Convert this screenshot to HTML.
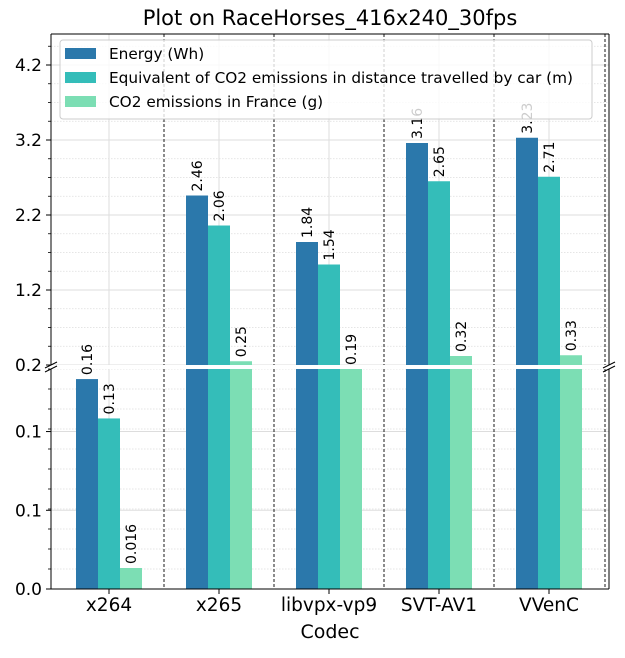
<!DOCTYPE html>
<html><head><meta charset="utf-8"><style>
body{margin:0;background:#fff;}
svg text{font-family:"DejaVu Sans","Liberation Sans",sans-serif;}
</style></head><body>
<svg id="chart" width="625" height="653" xmlns="http://www.w3.org/2000/svg"></svg>
<script>
const categories = ["x264","x265","libvpx-vp9","SVT-AV1","VVenC"];
const energy = [0.16,2.46,1.84,3.16,3.23];
const carDistance = [0.13,2.06,1.54,2.65,2.71];
const co2France = [0.016,0.25,0.19,0.32,0.33];
const energyLabels = ["0.16","2.46","1.84","3.16","3.23"];
const carLabels = ["0.13","2.06","1.54","2.65","2.71"];
const franceLabels = ["0.016","0.25","0.19","0.32","0.33"];
const topTicks = [0.2,1.2,2.2,3.2,4.2];
const bottomTicks = [0,0.06,0.12];
const bottomTickLabels = ["0.0","0.1","0.1"];
const seriesNames = ["Energy (Wh)","Equivalent of CO2 emissions in distance travelled by car (m)","CO2 emissions in France (g)"];

const NS="http://www.w3.org/2000/svg";
const svg=document.getElementById('chart');
const colors=["#2b78ab","#34bdb9","#7cdeb4"];
const L=51,R=609,topT=34,topB=365,botT=369,botB=589;
const yTop=v=>topB-(v-0.2)*75;
const yBot=v=>botB-v*1312;
const xC=i=>109+110*i;
function el(tag,attrs,parent){const e=document.createElementNS(NS,tag);for(const k in attrs)e.setAttribute(k,attrs[k]);(parent||svg).appendChild(e);return e;}

for(let v=0.2;v<=4.62;v+=0.25){const y=yTop(v);if(y<topT)break;
 const g=el('line',{x1:L,x2:R,y1:y,y2:y,stroke:"#ddd","stroke-width":0.8,"stroke-dasharray":"1.5,1.5"});
 
 el('line',{x1:L-3,x2:L,y1:y,y2:y,stroke:"#000","stroke-width":0.8});}
for(let k=0;k<12;k++){const y=botB-k*20;if(y<botT)break;
 const g=el('line',{x1:L,x2:R,y1:y,y2:y,stroke:"#ddd","stroke-width":0.8,"stroke-dasharray":"1.5,1.5"});
 
 el('line',{x1:L-3,x2:L,y1:y,y2:y,stroke:"#000","stroke-width":0.8});}
topTicks.forEach(v=>{const y=yTop(v);
 const g=el('line',{x1:L,x2:R,y1:y,y2:y,stroke:"#ddd","stroke-width":1});
 
 el('line',{x1:L-5,x2:L,y1:y,y2:y,stroke:"#000"});
 const t=el('text',{x:L-9,y:y+6,"text-anchor":"end","font-size":17});t.textContent=v.toFixed(1);
 });
bottomTicks.forEach((v,i)=>{const y=yBot(v);
 el('line',{x1:L,x2:R,y1:y,y2:y,stroke:"#ddd","stroke-width":1});
 el('line',{x1:L-5,x2:L,y1:y,y2:y,stroke:"#000"});
 const t=el('text',{x:L-9,y:y+6,"text-anchor":"end","font-size":17});t.textContent=bottomTickLabels[i];
 });
categories.forEach((c,i)=>{const x=xC(i);
 el('line',{x1:x,x2:x,y1:topT,y2:topB,stroke:"#ddd"});
 el('line',{x1:x,x2:x,y1:botT,y2:botB,stroke:"#ddd"});});
const series=[energy,carDistance,co2France];
const labs=[energyLabels,carLabels,franceLabels];
const labelEls=[];
series.forEach((s,si)=>{s.forEach((v,i)=>{
 const x=xC(i)-33+22*si;
 const yb=Math.max(yBot(v),botT);
 const b=el('rect',{x:x,y:yb,width:22,height:botB-yb,fill:colors[si]});
 
 let ytext;
 if(v>0.2){const yt=yTop(v);
  const b2=el('rect',{x:x,y:yt,width:22,height:topB-yt,fill:colors[si]});
  
  ytext=yt;} else ytext=yb;
 labelEls.push([x+11,ytext,labs[si][i]]);
});});
for(let i=0;i<5;i++){const x=xC(i)+55-(i==4?-1:0);
 el('line',{x1:x,x2:x,y1:topT,y2:topB,stroke:"#000","stroke-width":0.9,"stroke-dasharray":"3,2"});
 el('line',{x1:x,x2:x,y1:botT,y2:botB,stroke:"#000","stroke-width":0.9,"stroke-dasharray":"3,2"});}
el('line',{x1:L,x2:R,y1:topT,y2:topT,stroke:"#000"});
el('line',{x1:L,x2:L,y1:topT,y2:topB,stroke:"#000"});
el('line',{x1:R,x2:R,y1:topT,y2:topB,stroke:"#000"});
el('line',{x1:L,x2:R,y1:botB,y2:botB,stroke:"#000"});
el('line',{x1:L,x2:L,y1:botT,y2:botB,stroke:"#000"});
el('line',{x1:R,x2:R,y1:botT,y2:botB,stroke:"#000"});
el('rect',{x:L-1,y:topB,width:R-L+2,height:botT-topB,fill:"#fff"});
[L,R].forEach(x=>{el('line',{x1:x-6,x2:x+6,y1:topB+3,y2:topB-3,stroke:"#000"});el('line',{x1:x-6,x2:x+6,y1:botT+3,y2:botT-3,stroke:"#000"});});
labelEls.forEach(([x,y,t])=>{const tx=el('text',{transform:`translate(${x+5},${y-4}) rotate(-90)`,"font-size":14});tx.textContent=t;
 });
categories.forEach((c,i)=>{const x=xC(i);el('line',{x1:x,x2:x,y1:botB,y2:botB+5,stroke:"#000"});
 const t=el('text',{x:x,y:611,"text-anchor":"middle","font-size":18.5});t.textContent=c;
 });
const xt=el('text',{x:330,y:638,"text-anchor":"middle","font-size":19});xt.textContent="Codec";

const tt=el('text',{x:330,y:25,"text-anchor":"middle","font-size":21});tt.textContent="Plot on RaceHorses_416x240_30fps";

const lg=el('g',{});

el('rect',{x:60,y:40,width:532,height:79,rx:3,fill:"rgba(255,255,255,0.8)",stroke:"#ccc"},lg);
seriesNames.forEach((n,i)=>{const y=54+24*i;
 const sw=el('rect',{x:65,y:y-6,width:31,height:11,fill:colors[i]},lg);
 
 const t=el('text',{x:109,y:y+5,"font-size":15.3},lg);t.textContent=n;
 });
</script>
</body></html>
